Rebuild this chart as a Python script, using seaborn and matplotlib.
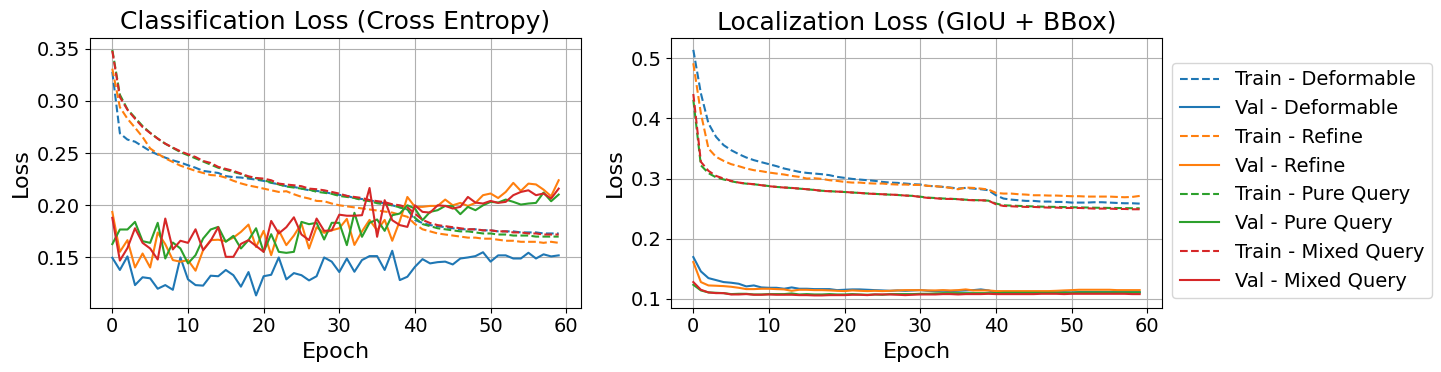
import numpy as np
import pandas as pd
import matplotlib
matplotlib.use("Agg")
import matplotlib.pyplot as plt
import seaborn as sns

epochs = list(range(60))

# ---- Classification loss ----
cls_train_deformable = [0.328, 0.269, 0.263, 0.261, 0.2565, 0.252, 0.2486, 0.2457, 0.2431, 0.241,
                        0.2384, 0.236, 0.233, 0.232, 0.231, 0.228, 0.227, 0.2266, 0.2256, 0.2246,
                        0.2234, 0.2215, 0.2202, 0.2183, 0.2176, 0.216, 0.2144, 0.2138, 0.2128, 0.2112,
                        0.210, 0.209, 0.207, 0.206, 0.205, 0.203, 0.202, 0.200, 0.198, 0.196,
                        0.186, 0.183, 0.181, 0.180, 0.179, 0.178, 0.177, 0.177, 0.177, 0.176,
                        0.176, 0.175, 0.175, 0.175, 0.174, 0.174, 0.174, 0.173, 0.173, 0.173]
cls_val_deformable = [0.1497, 0.138, 0.151, 0.1235, 0.131, 0.130, 0.120, 0.1235, 0.119, 0.150,
                      0.129, 0.1235, 0.123, 0.1325, 0.132, 0.138, 0.133, 0.122, 0.136, 0.1136,
                      0.132, 0.1334, 0.150, 0.129, 0.135, 0.133, 0.128, 0.132, 0.150, 0.146,
                      0.136, 0.149, 0.1363, 0.1475, 0.1513, 0.1513, 0.138, 0.1564, 0.1283, 0.1315,
                      0.141, 0.1484, 0.1443, 0.1455, 0.146, 0.1433, 0.149, 0.150, 0.1513, 0.155,
                      0.146, 0.152, 0.152, 0.149, 0.149, 0.1545, 0.149, 0.153, 0.151, 0.152]
cls_train_refine = [0.331, 0.294, 0.283, 0.2744, 0.2655, 0.2545, 0.2495, 0.245, 0.2415, 0.238,
                    0.2355, 0.233, 0.231, 0.229, 0.2285, 0.2265, 0.2235, 0.221, 0.219, 0.2176,
                    0.216, 0.2144, 0.2128, 0.2135, 0.2106, 0.2081, 0.2065, 0.2042, 0.2039, 0.2017,
                    0.200, 0.199, 0.198, 0.197, 0.196, 0.195, 0.194, 0.193, 0.191, 0.189,
                    0.182, 0.177, 0.175, 0.173, 0.172, 0.171, 0.170, 0.169, 0.169, 0.168,
                    0.168, 0.167, 0.166, 0.166, 0.165, 0.165, 0.165, 0.164, 0.165, 0.164]
cls_val_refine = [0.1936, 0.1554, 0.1666, 0.1404, 0.1538, 0.1404, 0.1739, 0.1627, 0.1475, 0.1459,
                  0.1475, 0.1373, 0.157, 0.1666, 0.167, 0.1656, 0.169, 0.1745, 0.1815, 0.160,
                  0.1755, 0.1522, 0.176, 0.1618, 0.171, 0.1825, 0.1586, 0.179, 0.1736, 0.176,
                  0.178, 0.187, 0.162, 0.175, 0.186, 0.176, 0.186, 0.166, 0.185, 0.208,
                  0.1985, 0.1985, 0.1994, 0.1994, 0.2055, 0.200, 0.2023, 0.1994, 0.2023, 0.2097,
                  0.2113, 0.207, 0.2128, 0.2215, 0.2138, 0.2208, 0.220, 0.215, 0.2087, 0.224]
cls_train_pure = [0.349, 0.306, 0.292, 0.284, 0.276, 0.2695, 0.264, 0.259, 0.255, 0.251,
                  0.248, 0.245, 0.242, 0.239, 0.236, 0.234, 0.232, 0.230, 0.227, 0.226,
                  0.224, 0.222, 0.220, 0.218, 0.217, 0.216, 0.215, 0.213, 0.212, 0.211,
                  0.209, 0.208, 0.207, 0.205, 0.204, 0.202, 0.201, 0.200, 0.198, 0.196,
                  0.188, 0.182, 0.180, 0.178, 0.177, 0.176, 0.175, 0.175, 0.174, 0.173,
                  0.173, 0.172, 0.172, 0.171, 0.171, 0.171, 0.170, 0.170, 0.170, 0.170]
cls_val_pure = [0.1628, 0.1768, 0.1768, 0.1841, 0.1656, 0.164, 0.1832, 0.149, 0.1643, 0.1586,
                0.1443, 0.1522, 0.1681, 0.1768, 0.1793, 0.165, 0.1707, 0.1586, 0.1666, 0.1780,
                0.1554, 0.1723, 0.1554, 0.1544, 0.1554, 0.1841, 0.1819, 0.1832, 0.1672, 0.1832,
                0.1832, 0.1618, 0.1928, 0.1698, 0.1832, 0.1864, 0.1755, 0.1905, 0.1921, 0.200,
                0.1969, 0.1857, 0.1937, 0.1953, 0.1994, 0.1991, 0.1915, 0.1985, 0.1953, 0.200,
                0.2033, 0.2026, 0.2055, 0.2033, 0.2007, 0.2017, 0.2023, 0.2122, 0.2039, 0.2103]
cls_train_mixed = [0.348, 0.3037, 0.2916, 0.283, 0.275, 0.2693, 0.2639, 0.2591, 0.2553, 0.2518,
                   0.2489, 0.2463, 0.2425, 0.2406, 0.2368, 0.2349, 0.233, 0.2304, 0.2278, 0.2262,
                   0.2256, 0.224, 0.2208, 0.2199, 0.2192, 0.2183, 0.216, 0.2154, 0.2144, 0.2128,
                   0.2112, 0.209, 0.208, 0.207, 0.205, 0.204, 0.203, 0.201, 0.200, 0.198,
                   0.192, 0.186, 0.183, 0.181, 0.180, 0.179, 0.178, 0.177, 0.177, 0.176,
                   0.176, 0.175, 0.175, 0.174, 0.174, 0.173, 0.173, 0.172, 0.172, 0.172]
cls_val_mixed = [0.188, 0.147, 0.159, 0.178, 0.164, 0.1586, 0.148, 0.1873, 0.1577, 0.166,
                 0.164, 0.177, 0.157, 0.166, 0.179, 0.1506, 0.1506, 0.163, 0.1666, 0.161,
                 0.1554, 0.185, 0.173, 0.179, 0.1885, 0.172, 0.1666, 0.1873, 0.1755, 0.176,
                 0.191, 0.190, 0.190, 0.1905, 0.2166, 0.1698, 0.2049, 0.1857, 0.181, 0.1793,
                 0.200, 0.1937, 0.193, 0.200, 0.1994, 0.1969, 0.1985, 0.208, 0.2026, 0.2017,
                 0.2042, 0.2023, 0.2033, 0.2097, 0.2128, 0.2144, 0.2097, 0.2113, 0.2065, 0.216]

# ---- Localization loss ----
loc_train_deformable = [0.514, 0.4417, 0.3917, 0.3694, 0.3556, 0.3472, 0.3406, 0.335, 0.3306, 0.3272,
                        0.3239, 0.3206, 0.3167, 0.3139, 0.3111, 0.3094, 0.3083, 0.3072, 0.3056, 0.3028,
                        0.3011, 0.2994, 0.2983, 0.2972, 0.2961, 0.2944, 0.2933, 0.2928, 0.2917, 0.2906,
                        0.290, 0.2878, 0.2872, 0.2861, 0.285, 0.2833, 0.2844, 0.2833, 0.2822, 0.2806,
                        0.2722, 0.2667, 0.265, 0.2639, 0.2628, 0.2628, 0.2617, 0.2617, 0.2611, 0.2611,
                        0.260, 0.260, 0.260, 0.2606, 0.2606, 0.260, 0.2594, 0.2589, 0.2589, 0.2583]
loc_val_deformable = [0.1694, 0.1456, 0.1344, 0.1311, 0.1278, 0.1267, 0.125, 0.1206, 0.1222, 0.1189,
                      0.1183, 0.1183, 0.1167, 0.1189, 0.1167, 0.1167, 0.1161, 0.1161, 0.1161, 0.1144,
                      0.115, 0.1156, 0.1156, 0.115, 0.1144, 0.1139, 0.1133, 0.1139, 0.1133, 0.1139,
                      0.1144, 0.1133, 0.1128, 0.1133, 0.1128, 0.1133, 0.1139, 0.1144, 0.1156, 0.1139,
                      0.1106, 0.1106, 0.1106, 0.1106, 0.1106, 0.1106, 0.1106, 0.1106, 0.1106, 0.1111,
                      0.1106, 0.1111, 0.1111, 0.1111, 0.1111, 0.1111, 0.1111, 0.1111, 0.1111, 0.1111]
loc_train_refine = [0.4917, 0.4083, 0.350, 0.3361, 0.3294, 0.3239, 0.3206, 0.3167, 0.3139, 0.3122,
                    0.310, 0.3083, 0.3067, 0.3044, 0.3028, 0.300, 0.3005, 0.2994, 0.2972, 0.2961,
                    0.2944, 0.2933, 0.2933, 0.2922, 0.2917, 0.2917, 0.2906, 0.290, 0.290, 0.2894,
                    0.2894, 0.2878, 0.2872, 0.2861, 0.2844, 0.2822, 0.285, 0.2844, 0.2833, 0.2817,
                    0.2761, 0.275, 0.275, 0.2739, 0.2733, 0.2722, 0.2722, 0.2717, 0.2717, 0.2711,
                    0.2706, 0.2706, 0.270, 0.270, 0.270, 0.270, 0.2694, 0.2689, 0.2694, 0.2711]
loc_val_refine = [0.1611, 0.1278, 0.1222, 0.1217, 0.1211, 0.120, 0.1183, 0.1161, 0.1161, 0.1167,
                  0.1167, 0.1161, 0.1156, 0.1133, 0.115, 0.115, 0.1144, 0.1144, 0.1139, 0.1133,
                  0.1128, 0.1139, 0.1133, 0.1128, 0.1133, 0.1128, 0.1133, 0.1139, 0.1144, 0.1144,
                  0.1144, 0.1139, 0.1139, 0.1144, 0.1139, 0.1144, 0.1156, 0.1139, 0.1139, 0.1139,
                  0.1128, 0.1128, 0.1128, 0.1128, 0.1128, 0.1128, 0.1128, 0.1128, 0.1133, 0.1139,
                  0.1144, 0.115, 0.115, 0.115, 0.115, 0.115, 0.1144, 0.1144, 0.1144, 0.1144]
loc_train_pure = [0.431, 0.322, 0.309, 0.302, 0.2985, 0.2955, 0.293, 0.2915, 0.2905, 0.289,
                  0.2875, 0.286, 0.2852, 0.2842, 0.2832, 0.2822, 0.281, 0.2797, 0.279, 0.2782,
                  0.2776, 0.2768, 0.276, 0.2752, 0.2745, 0.2738, 0.2732, 0.2726, 0.2718, 0.2712,
                  0.2698, 0.2683, 0.2676, 0.2668, 0.2663, 0.2658, 0.2648, 0.2642, 0.2638, 0.2632,
                  0.2585, 0.2555, 0.255, 0.2545, 0.254, 0.2537, 0.2533, 0.253, 0.2528, 0.2525,
                  0.2522, 0.252, 0.2518, 0.2515, 0.2513, 0.2511, 0.251, 0.2508, 0.2506, 0.2505]
loc_val_pure = [0.1233, 0.1139, 0.1106, 0.110, 0.1094, 0.1078, 0.1083, 0.1083, 0.1072, 0.1072,
                0.1078, 0.1078, 0.1078, 0.1089, 0.1072, 0.1078, 0.1072, 0.1072, 0.1078, 0.1072,
                0.1072, 0.1078, 0.1072, 0.1067, 0.1072, 0.1067, 0.1078, 0.1078, 0.1078, 0.1078,
                0.1083, 0.1083, 0.1089, 0.1094, 0.1094, 0.1094, 0.1094, 0.1094, 0.1094, 0.1094,
                0.1094, 0.110, 0.110, 0.110, 0.110, 0.110, 0.110, 0.110, 0.110, 0.110,
                0.110, 0.1106, 0.1106, 0.1106, 0.1106, 0.1106, 0.1106, 0.1106, 0.1106, 0.1106]
loc_train_mixed = [0.4406, 0.3278, 0.3128, 0.3044, 0.300, 0.2961, 0.2933, 0.2917, 0.2906, 0.2889,
                   0.2872, 0.2861, 0.285, 0.2844, 0.2833, 0.2822, 0.2811, 0.2794, 0.2789, 0.2783,
                   0.2778, 0.2767, 0.2761, 0.275, 0.2744, 0.2739, 0.2733, 0.2728, 0.2717, 0.2711,
                   0.2694, 0.2678, 0.2672, 0.2661, 0.2661, 0.2656, 0.2644, 0.2639, 0.2639, 0.2633,
                   0.2572, 0.2544, 0.2539, 0.2533, 0.2528, 0.2528, 0.2522, 0.2517, 0.2517, 0.2511,
                   0.2511, 0.2511, 0.2506, 0.250, 0.250, 0.250, 0.2494, 0.2494, 0.2489, 0.2489]
loc_val_mixed = [0.1278, 0.115, 0.1106, 0.1094, 0.1094, 0.1072, 0.1072, 0.1078, 0.1067, 0.1067,
                 0.1072, 0.1067, 0.1067, 0.1067, 0.1061, 0.1061, 0.1056, 0.1056, 0.1061, 0.1061,
                 0.1061, 0.1067, 0.1067, 0.1061, 0.1072, 0.1072, 0.1072, 0.1067, 0.1061, 0.1067,
                 0.1072, 0.1072, 0.1072, 0.1078, 0.1078, 0.1072, 0.1078, 0.1078, 0.1078, 0.1083,
                 0.1078, 0.1078, 0.1078, 0.1078, 0.1078, 0.1078, 0.1083, 0.1083, 0.1083, 0.1078,
                 0.1083, 0.1083, 0.1083, 0.1083, 0.1083, 0.1083, 0.1083, 0.1083, 0.1078, 0.1078]

models = ["Deformable", "Refine", "Pure Query", "Mixed Query"]
colors = ["#1f77b4", "#ff7f0e", "#2ca02c", "#d62728"]

cls_series = [(cls_train_deformable, cls_val_deformable), (cls_train_refine, cls_val_refine),
              (cls_train_pure, cls_val_pure), (cls_train_mixed, cls_val_mixed)]
loc_series = [(loc_train_deformable, loc_val_deformable), (loc_train_refine, loc_val_refine),
              (loc_train_pure, loc_val_pure), (loc_train_mixed, loc_val_mixed)]

fig = plt.figure(figsize=(14.41, 3.72), dpi=100)
ax1 = fig.add_axes([90 / 1441, 1 - 307.7 / 372, 491 / 1441, 270.1 / 372])
ax2 = fig.add_axes([671 / 1441, 1 - 307.7 / 372, 491 / 1441, 270.1 / 372])


def draw(ax, series, title):
    for (tr, va), name, c in zip(series, models, colors):
        df = pd.DataFrame({"Epoch": epochs, "train": tr, "val": va})
        sns.lineplot(data=df, x="Epoch", y="train", ax=ax, color=c, linestyle="--",
                     linewidth=1.5, label=f"Train - {name}", legend=False)
        sns.lineplot(data=df, x="Epoch", y="val", ax=ax, color=c, linestyle="-",
                     linewidth=1.5, label=f"Val - {name}", legend=False)
    ax.set_title(title, fontsize=18)
    ax.set_xlabel("Epoch", fontsize=16)
    ax.set_ylabel("Loss", fontsize=16)
    ax.tick_params(labelsize=14)
    ax.grid(True, color="#b0b0b0", linewidth=0.8)
    ax.set_xticks([0, 10, 20, 30, 40, 50, 60])


draw(ax1, cls_series, "Classification Loss (Cross Entropy)")
draw(ax2, loc_series, "Localization Loss (GIoU + BBox)")
ax1.set_yticks([0.15, 0.20, 0.25, 0.30, 0.35])
ax2.set_yticks([0.1, 0.2, 0.3, 0.4, 0.5])

if ax1.get_legend() is not None:
    ax1.get_legend().remove()
handles, labels = ax2.get_legend_handles_labels()
ax2.legend(handles, labels, loc="upper left", bbox_to_anchor=(1.021, 0.907),
           borderaxespad=0, fontsize=14)

fig.savefig("out.png", dpi=100)
